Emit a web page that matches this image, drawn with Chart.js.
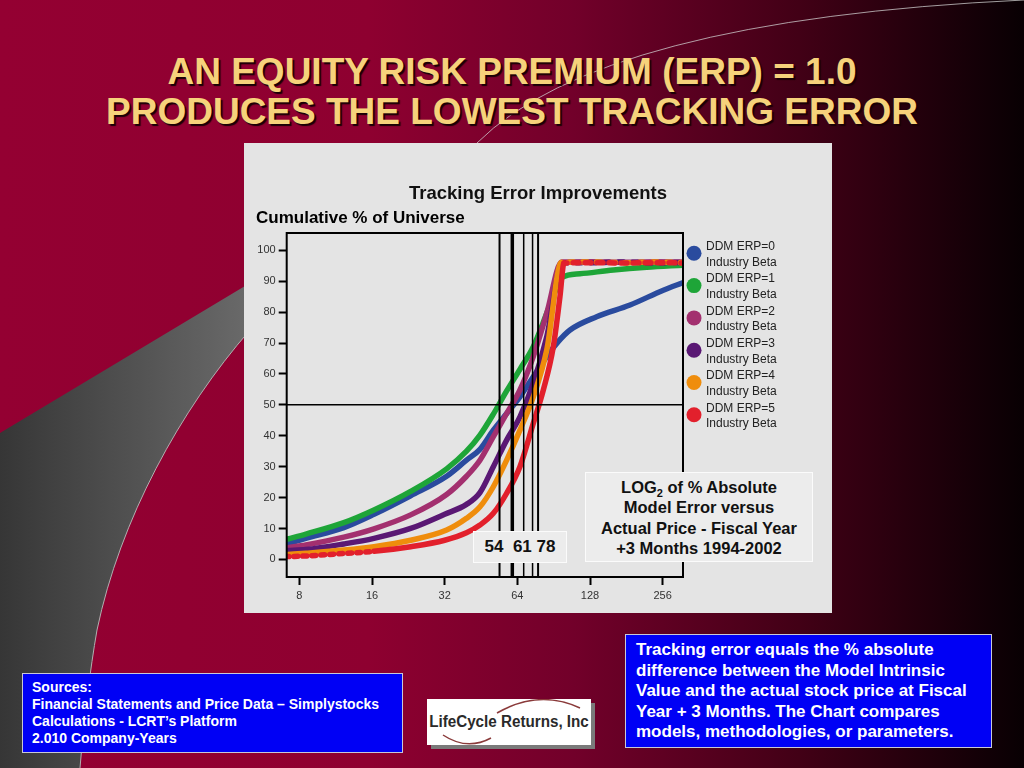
<!DOCTYPE html>
<html><head><meta charset="utf-8">
<script src="https://cdn.jsdelivr.net/npm/chart.js@4.4.1/dist/chart.umd.min.js"></script>
<style>
html,body{margin:0;padding:0;width:1024px;height:768px;overflow:hidden;}
body{position:relative;background:linear-gradient(90deg,#940032 0%,#8e0030 36%,#72002a 56%,#420016 78%,#080003 100%);font-family:"Liberation Sans",Arial,sans-serif;}
#bg{position:absolute;left:0;top:0;}
#title{position:absolute;left:0;top:52px;width:1024px;text-align:center;color:#f6d27b;font:bold 37px/40px "Liberation Sans",Arial,sans-serif;text-shadow:2px 2px 1px #1a0006;}
#panel{position:absolute;left:244px;top:143px;width:588px;height:470px;background:#e4e4e4;}
#panel canvas{position:absolute;left:0;top:0;}
.gbox{position:absolute;background:#ececec;border:1px solid #fbfbfb;color:#111;text-align:center;font-weight:bold;font-family:"Liberation Sans",Arial,sans-serif;}
#marks{left:229px;top:388px;width:92px;height:30px;font-size:17px;line-height:30px;white-space:pre;}
#logbox{left:341px;top:329px;width:228px;height:90px;font-size:16.5px;line-height:20.4px;padding-top:4px;box-sizing:border-box;}
.bbox{position:absolute;background:#0000f5;border:1px solid #c8c8d8;color:#fff;font-weight:bold;font-family:"Liberation Sans",Arial,sans-serif;box-sizing:border-box;}
#sources{left:22px;top:673px;width:381px;height:80px;font-size:14px;line-height:17px;padding:5px 0 0 9px;}
#note{left:625px;top:634px;width:367px;height:114px;font-size:17px;line-height:20.5px;padding:5px 0 0 10px;}
#logo{position:absolute;left:427px;top:699px;width:164px;height:46px;background:#fff;box-shadow:4px 4px 0 #7a7a7a;overflow:hidden;}
#logo span{position:absolute;left:-20px;top:13px;width:204px;text-align:center;font:bold 16px/20px "Liberation Sans",Arial,sans-serif;color:#2a2a2a;transform:scaleX(0.95);transform-origin:50% 50%;white-space:nowrap;}
#logo svg{position:absolute;left:0;top:0;}
</style></head>
<body>
<svg id="bg" width="1024" height="768">
  <defs>
    <linearGradient id="sw" x1="0" y1="0" x2="1" y2="0">
      <stop offset="0" stop-color="#363636"/>
      <stop offset="1" stop-color="#6a6a6a"/>
    </linearGradient>
  </defs>
  <path d="M0,433 L250,283 L250,330 C180,410 120,520 97,630 C90,670 84,720 80,768 L0,768 Z" fill="url(#sw)"/>
  <path d="M250,330 C180,410 120,520 97,630 C90,670 84,720 80,768" fill="none" stroke="#b0b0b0" stroke-width="1"/>
  <path d="M477,143 Q600,20 1024,0" fill="none" stroke="rgba(210,210,210,0.75)" stroke-width="1"/>
</svg>
<div id="title">AN EQUITY RISK PREMIUM (ERP) = 1.0<br>PRODUCES THE LOWEST TRACKING ERROR</div>
<div id="panel">
  <canvas id="c" width="588" height="470"></canvas>
  <div id="marks" class="gbox">54  61 78</div>
  <div id="logbox" class="gbox">LOG<sub style="font-size:11px;line-height:0">2</sub> of % Absolute<br>Model Error versus<br>Actual Price - Fiscal Year<br>+3 Months 1994-2002</div>
</div>
<div id="sources" class="bbox">Sources:<br>Financial Statements and Price Data – Simplystocks<br>Calculations - LCRT’s Platform<br>2.010 Company-Years</div>
<div id="logo">
  <svg width="164" height="46"><path d="M70,14 Q112,-10 153,9" fill="none" stroke="#8a3a3a" stroke-width="1.5"/><path d="M16,36 Q40,52 64,39" fill="none" stroke="#8a3a3a" stroke-width="1.5"/></svg>
  <span>LifeCycle Returns, Inc</span>
</div>
<div id="note" class="bbox">Tracking error equals the % absolute<br>difference between the Model Intrinsic<br>Value and the actual stock price at Fiscal<br>Year + 3 Months. The Chart compares<br>models, methodologies, or parameters.</div>
<script>
// ---- data ----
const seriesNames = ['DDM ERP=0','DDM ERP=1','DDM ERP=2','DDM ERP=3','DDM ERP=4','DDM ERP=5'];
const seriesSub = 'Industry Beta';

const erp0X = [7.17, 8.51, 12.23, 16.3, 23.13, 32.6, 39.4, 44.8, 50.9, 57.8, 65.6, 74.5, 84.7, 93.2, 105.8, 136.4, 187.5, 257.6, 312];
const erp0Y = [5.1, 6.8, 10.3, 14.6, 20.6, 26.9, 32.1, 35.6, 41.8, 47.2, 52.6, 59.1, 65.6, 69.9, 74.2, 78.5, 82.3, 87.1, 89.6];

const erp1X = [7.17, 8.51, 12.23, 16.3, 23.13, 32.6, 39.4, 44.8, 50.9, 57.8, 65.6, 74.5, 84.7, 93.2, 98.0, 116.3, 159.9, 219.9, 312];
const erp1Y = [6.6, 8.2, 11.9, 16.0, 22.0, 29.3, 35.0, 40.2, 47.0, 54.5, 61.5, 68.8, 79.6, 88.0, 91.2, 92.4, 93.6, 94.5, 95.2];

const erp2X = [7.17, 8.51, 12.23, 16.3, 23.13, 32.6, 39.4, 44.8, 50.9, 57.8, 65.6, 74.5, 84.7, 97.7, 130, 180, 240, 312];
const erp2Y = [3.8, 4.7, 7.2, 9.9, 14.4, 21.0, 26.9, 32.1, 39.7, 47.2, 54.8, 65.6, 79.6, 96.2, 96.3, 96.1, 96.3, 96.2];

const erp3X = [7.17, 8.51, 12.23, 16.3, 23.13, 32, 39.4, 44.8, 50.9, 57.8, 65.6, 74.5, 84.7, 98.5, 130, 180, 240, 312];
const erp3Y = [2.9, 3.2, 5.0, 6.8, 10.0, 14.6, 17.8, 21.6, 30.0, 38.6, 46.1, 57.0, 72.0, 96.0, 96.0, 96.2, 95.9, 96.1];

const erp4X = [7.17, 8.51, 12.23, 16.3, 23.13, 32.6, 39.4, 44.8, 50.9, 57.8, 65.6, 74.5, 84.7, 97.5, 130, 180, 240, 312];
const erp4Y = [1.6, 2.0, 3.0, 4.1, 6.2, 9.5, 13.3, 17.0, 23.5, 32.1, 41.8, 52.6, 67.7, 96.1, 96.2, 96.0, 96.2, 96.0];

const erp5X = [7.17, 8.51, 12.23, 16.3, 23.13, 32, 39.4, 44.8, 50.9, 57.8, 65.6, 74.5, 82.0, 90.2, 96.1, 99.9, 130, 180, 240, 312];
const erp5Y = [0.9, 1.1, 1.9, 2.6, 4.1, 6.2, 8.6, 11.1, 14.9, 21.4, 30.0, 44.0, 54.8, 68.8, 85.0, 95.9, 96.0, 95.9, 96.0, 95.9];

const xTicks = [8, 16, 32, 64, 128, 256];
const yTicks = [0, 10, 20, 30, 40, 50, 60, 70, 80, 90, 100];
const markerValues = [54, 61, 68, 74, 78];
const refY = 50;

// ---- styling ----
const colors = ['#2a4b9e', '#1ea538', '#a3306f', '#5a1874', '#ef8d0c', '#e2202c'];
const markerWidths = [2, 3.5, 1.5, 1.5, 2];
const allX = [erp0X, erp1X, erp2X, erp3X, erp4X, erp5X];
const allY = [erp0Y, erp1Y, erp2Y, erp3Y, erp4Y, erp5Y];
const plateauDash = [null, null, null, [5, 9], [5, 9], [6, 6]];
const plateauOffset = [0, 0, 0, 0, 7, 3];

const datasets = allX.map((xs, i) => ({
  label: seriesNames[i],
  data: xs.map((x, k) => ({x: x, y: allY[i][k]})),
  borderColor: colors[i],
  backgroundColor: colors[i],
  borderWidth: 5.5,
  pointRadius: 0,
  fill: false,
  cubicInterpolationMode: 'monotone',
  order: 5 - i,
  borderCapStyle: 'round',
  segment: {
    borderDash: ctx => {
      if (plateauDash[i] && ctx.p0.parsed.x >= 97) return plateauDash[i];
      if (i === 5 && ctx.p1.parsed.x <= 16.3) return [4, 5];
      return undefined;
    },
    borderDashOffset: () => plateauOffset[i]
  }
}));

const refPlugin = {
  id: 'refLines',
  afterDatasetsDraw(chart) {
    const {ctx, chartArea: a, scales: {x, y}} = chart;
    ctx.save();
    ctx.strokeStyle = '#000';
    markerValues.forEach((v, i) => {
      const px = x.getPixelForValue(v);
      ctx.lineWidth = markerWidths[i];
      ctx.beginPath(); ctx.moveTo(px, a.top); ctx.lineTo(px, a.bottom); ctx.stroke();
    });
    const py = y.getPixelForValue(refY);
    ctx.lineWidth = 1.5;
    ctx.beginPath(); ctx.moveTo(a.left, py); ctx.lineTo(a.right, py); ctx.stroke();
    ctx.lineWidth = 2;
    ctx.strokeRect(a.left, a.top, a.right - a.left, a.bottom - a.top);
    ctx.restore();
  }
};

const legendPlugin = {
  id: 'sideLegend',
  afterDraw(chart) {
    const {ctx, chartArea: a} = chart;
    ctx.save();
    chart.data.datasets.forEach((ds, i) => {
      const cy = a.top + 20.3 + i * 32.3;
      const cx = a.right + 11;
      ctx.fillStyle = ds.borderColor;
      ctx.beginPath(); ctx.arc(cx, cy, 7.5, 0, Math.PI * 2); ctx.fill();
      ctx.fillStyle = '#222';
      ctx.font = '12px "Liberation Sans", Arial, sans-serif';
      ctx.textBaseline = 'middle'; ctx.textAlign = 'left';
      ctx.fillText(ds.label, a.right + 23, cy - 6.6);
      ctx.fillText(seriesSub, a.right + 23, cy + 9);
    });
    ctx.restore();
  }
};

const tickFont = {family: '"Liberation Sans", Arial, sans-serif', size: 11};

new Chart(document.getElementById('c'), {
  type: 'line',
  data: {datasets: datasets},
  options: {
    animation: false,
    responsive: false,
    devicePixelRatio: 1,
    layout: {padding: {left: 12, right: 12, top: 0, bottom: 0}},
    plugins: {
      legend: {display: false},
      tooltip: {enabled: false},
      title: {display: true, text: 'Tracking Error Improvements', color: '#111',
        font: {family: '"Liberation Sans", Arial, sans-serif', size: 18.5, weight: 'bold'},
        padding: {top: 40, bottom: 3}},
      subtitle: {display: true, text: 'Cumulative % of Universe', align: 'start', color: '#000',
        font: {family: '"Liberation Sans", Arial, sans-serif', size: 17, weight: 'bold'},
        padding: {top: 0, bottom: 4.4}}
    },
    scales: {
      x: {
        type: 'logarithmic', min: 7.09, max: 310.8,
        afterBuildTicks: s => { s.ticks = xTicks.map(v => ({value: v})); },
        afterFit: s => { s.height = 36; },
        ticks: {callback: v => String(v), color: '#333', font: tickFont, padding: 4, autoSkip: false, maxRotation: 0},
        grid: {display: true, drawOnChartArea: false, drawTicks: true, tickLength: 8, tickColor: '#000', tickWidth: 2},
        border: {display: false}
      },
      y: {
        type: 'linear', min: -5.7, max: 105.6,
        afterBuildTicks: s => { s.ticks = yTicks.map(v => ({value: v})); },
        afterFit: s => { s.width = 30.7; },
        ticks: {color: '#333', font: tickFont, padding: 3},
        grid: {display: true, drawOnChartArea: false, drawTicks: true, tickLength: 8, tickColor: '#000', tickWidth: 2},
        border: {display: false}
      },
      yR: {
        type: 'linear', position: 'right', display: true,
        afterFit: s => { s.width = 137; },
        ticks: {display: false}, grid: {display: false}, border: {display: false}
      }
    }
  },
  plugins: [refPlugin, legendPlugin]
});
</script>
</body></html>
